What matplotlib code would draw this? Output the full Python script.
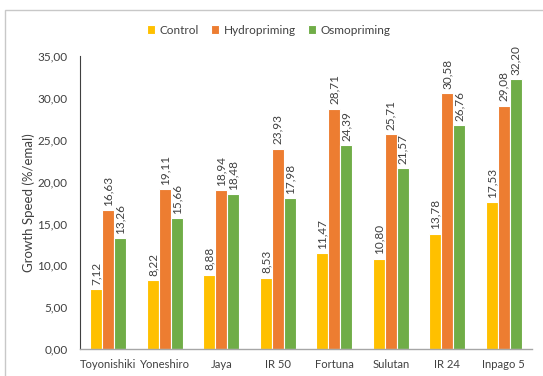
import numpy as np
import matplotlib.pyplot as plt
from matplotlib.patches import Rectangle

# Growth speed per variety and priming treatment
varieties = ['Toyonishiki', 'Yoneshiro', 'Jaya', 'IR 50', 'Fortuna', 'Sulutan', 'IR 24', 'Inpago 5']
control = [7.12, 8.22, 8.88, 8.53, 11.47, 10.80, 13.78, 17.53]
hydropriming = [16.63, 19.11, 18.94, 23.93, 28.71, 25.71, 30.58, 29.08]
osmopriming = [13.26, 15.66, 18.48, 17.98, 24.39, 21.57, 26.76, 32.20]

series = [
    ('Control', control, '#FFC000'),
    ('Hydropriming', hydropriming, '#ED7D31'),
    ('Osmopriming', osmopriming, '#70AD47'),
]

plt.rcParams['font.family'] = ['Lato', 'DejaVu Sans']
txt_col = '#404040'
fs = 8.5

fig = plt.figure(figsize=(5.43, 3.76), dpi=100)
ax = fig.add_axes([80/543, 1 - 349/376, 452/543, 293/376])

# chart frame
fig.patches.append(Rectangle((5/543, -0.1), 1.1, 1 - 10/376 + 0.1, transform=fig.transFigure,
                             fill=False, edgecolor='#c8c8c8', linewidth=1))

x = np.arange(len(varieties))
w = 0.21
for i, (name, vals, col) in enumerate(series):
    pos = x + (i - 1) * w
    bars = ax.bar(pos, vals, width=w, color=col, edgecolor='white', linewidth=0.8, label=name)
    for b, v in zip(bars, vals):
        ax.text(b.get_x() + b.get_width() / 2, v + 0.5, f'{v:.2f}'.replace('.', ','),
                rotation=90, ha='center', va='bottom', fontsize=fs, color=txt_col)

ax.set_xlim(-0.5, len(varieties) - 0.5)
ax.set_ylim(0, 35)
ax.set_yticks(np.arange(0, 36, 5))
ax.set_yticklabels([f'{t:.2f}'.replace('.', ',') for t in np.arange(0, 36, 5)])
ax.set_xticks(x)
ax.set_xticklabels(varieties)
ax.tick_params(axis='both', length=0, labelsize=fs, labelcolor=txt_col)
ax.tick_params(axis='x', labelsize=8.1, pad=7)
ax.tick_params(axis='y', pad=9)
ax.set_ylabel('Growth Speed (%/emal)', fontsize=9.5, color=txt_col, labelpad=2)

for s in ['top', 'right']:
    ax.spines[s].set_visible(False)
ax.spines['left'].set_color('#404040')
ax.spines['bottom'].set_color('#a6a6a6')
ax.spines['left'].set_linewidth(0.8)
ax.spines['bottom'].set_linewidth(1.0)

fig.legend(loc='center', bbox_to_anchor=(0.495, 1 - 30/376), ncol=3, frameon=False,
           fontsize=fs, handlelength=0.7, handleheight=0.7, handletextpad=0.4,
           columnspacing=1.0, labelcolor=txt_col)

fig.savefig('out.png', dpi=100)
